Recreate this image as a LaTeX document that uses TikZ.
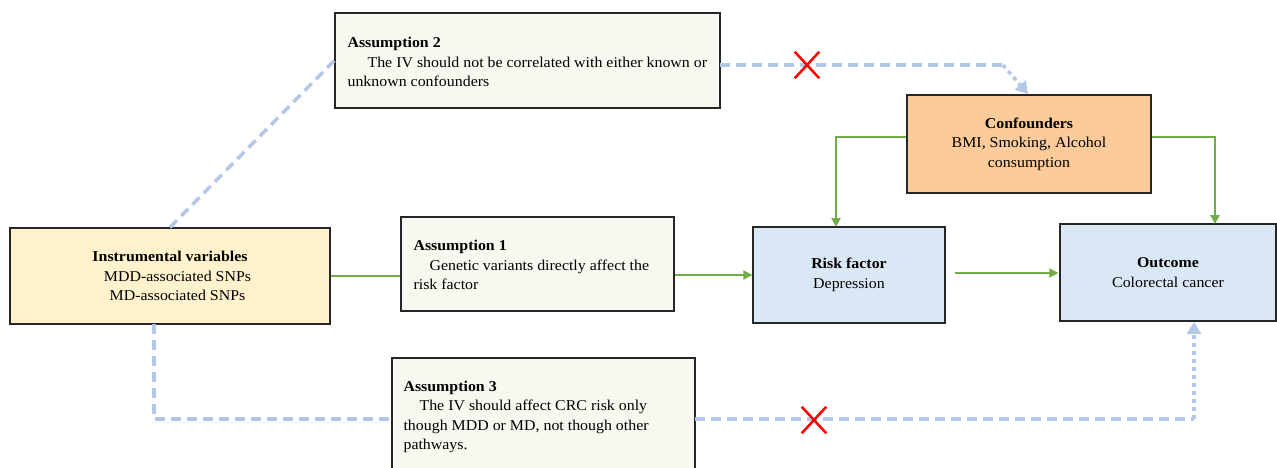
\documentclass[tikz,border=0pt]{standalone}
\usepackage{fontspec}
\setmainfont{Liberation Serif}[FakeStretch=1.06]
\usetikzlibrary{arrows.meta,shapes.misc}
\definecolor{ivory}{HTML}{F8F8F0}
\definecolor{ivyel}{HTML}{FFF2CC}
\definecolor{peach}{HTML}{FBCB9A}
\definecolor{lblue}{HTML}{DAE8F5}
\definecolor{dblue}{HTML}{B4C7E7}
\definecolor{grn}{HTML}{70AD47}
\begin{document}
\begin{tikzpicture}[x=1pt,y=-1pt,
 box/.style={draw=black!85,line width=1.3pt,rectangle,inner sep=0pt,
   font=\fontsize{15}{19.5}\selectfont,align=center},
 txt/.style={font=\fontsize{15}{19.5}\selectfont,align=left,inner sep=0pt},
 gline/.style={draw=grn,line width=2pt},
 garrow/.style={gline,-{Triangle[length=9pt,width=9pt]}},
 bdash/.style={draw=dblue,line width=3.5pt,dash pattern=on 10pt off 6pt},
 bdot/.style={draw=dblue,line width=3.5pt,dash pattern=on 4pt off 4pt},
 barrow/.style={-{Triangle[length=12pt,width=14pt]}},
 nocross/.style={draw=red,cross out,line width=2.5pt,minimum width=22pt,minimum height=24pt,inner sep=0pt}
]
\useasboundingbox (0,0) rectangle (1277,468);

% boxes
\node[box,fill=ivory,minimum width=385pt,minimum height=95pt] (a2) at (527.5,60.5) {};
\node[box,fill=ivory,minimum width=273pt,minimum height=94pt] (a1) at (537.5,264) {};
\node[box,fill=ivory,minimum width=303pt,minimum height=118pt] (a3) at (543.5,417) {};
\node[box,fill=ivyel,minimum width=320pt,minimum height=96pt] (iv) at (170,276)
  {\textbf{Instrumental variables}\\\hspace*{15pt}MDD-associated SNPs\\\hspace*{15pt}MD-associated SNPs};
\node[box,fill=lblue,minimum width=192pt,minimum height=96pt] (rf) at (849,275)
  {\textbf{Risk factor}\\Depression};
\node[box,fill=lblue,minimum width=216pt,minimum height=97pt] (oc) at (1168,272.5)
  {\textbf{Outcome}\\Colorectal cancer};
\node[box,fill=peach,minimum width=244pt,minimum height=98pt] (cf) at (1029,144)
  {\textbf{Confounders}\\BMI, Smoking, Alcohol\\consumption};

% assumption texts
\node[txt,anchor=west] (a2t) at ([xshift=13pt,yshift=-1.5pt]a2.west)
  {\textbf{Assumption 2}\\\hspace*{20pt}The IV should not be correlated with either known or\\unknown confounders};
\node[txt,anchor=west] (a1t) at ([xshift=13pt,yshift=-1pt]a1.west)
  {\textbf{Assumption 1}\\\hspace*{16pt}Genetic variants directly affect the\\risk factor};
\node[txt,anchor=west] (a3t) at ([xshift=12pt]a3.west)
  {\textbf{Assumption 3}\\\hspace*{16pt}The IV should affect CRC risk only\\though MDD or MD, not though other\\pathways.};

% green connectors
\draw[gline] (iv.east) -- (a1.west |- iv.east);
\draw[garrow] (a1.east |- rf.west) -- (rf.west);
\coordinate (rfo) at ([xshift=9pt]rf.east);
\draw[garrow,shorten >=1pt] ([yshift=2pt]rfo) -- ([yshift=2pt]rfo -| oc.west);
\coordinate (rftop) at (836,227);
\draw[garrow] ([yshift=7pt]cf.west) -| (rftop);
\coordinate (octop) at (1215,224);
\draw[garrow] ([yshift=7pt]cf.east) -| (octop);

% blue dashed connectors
\draw[bdash] (iv.north) -- (a2.west);
\coordinate (a2r) at (720,65);
\coordinate (bend2) at (1003,65);
\coordinate (cftop) at (1028,94);
\draw[bdash] (a2r) -- (bend2);
\draw[bdot,barrow] (bend2) -- (cftop);

\coordinate (ivb) at (154,324);
\coordinate (c3) at (154,419);
\draw[bdash] (ivb) -- (c3) -- (c3 -| a3.west);
\coordinate (a3r) at (695,419);
\coordinate (br3) at (1194,419);
\coordinate (ocb) at (1194,322);
\draw[bdash] (a3r) -- (br3);
\draw[bdot,barrow] (br3) -- (ocb);

% red crosses
\node[nocross] (x2) at (807,65) {};
\node[nocross] (x3) at (814,420) {};
\end{tikzpicture}
\end{document}
